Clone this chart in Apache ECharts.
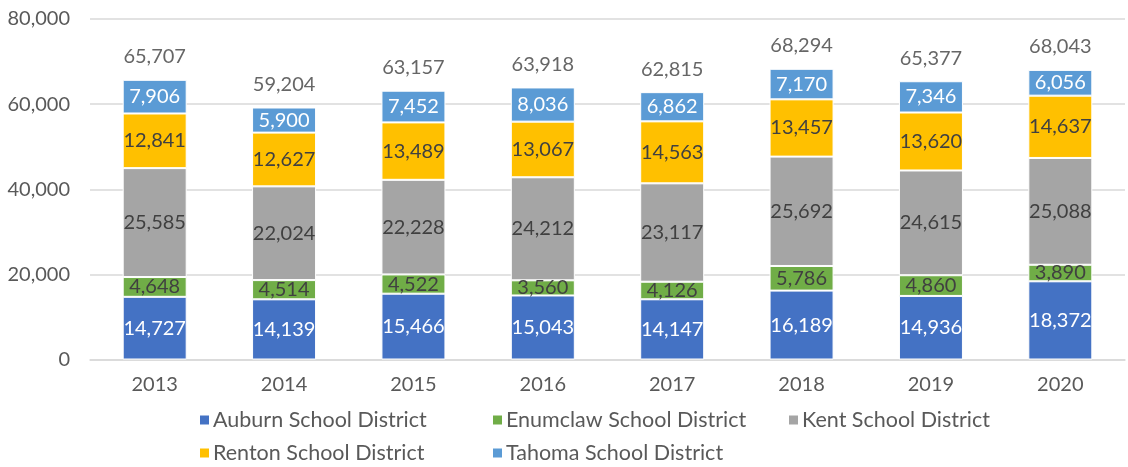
<!DOCTYPE html>
<html>
<head>
<meta charset="utf-8">
<script src="https://cdn.jsdelivr.net/npm/echarts@6/dist/echarts.min.js"></script>
<style>
html,body{margin:0;padding:0;background:#fff;}
#c{width:1128px;height:467px;}
</style>
</head>
<body>
<div id="c"></div>
<script>
var years = ['2013','2014','2015','2016','2017','2018','2019','2020'];
var auburn   = [14727, 14139, 15466, 15043, 14147, 16189, 14936, 18372];
var enumclaw = [4648, 4514, 4522, 3560, 4126, 5786, 4860, 3890];
var kent     = [25585, 22024, 22228, 24212, 23117, 25692, 24615, 25088];
var renton   = [12841, 12627, 13489, 13067, 14563, 13457, 13620, 14637];
var tahoma   = [7906, 5900, 7452, 8036, 6862, 7170, 7346, 6056];
var totals   = [65707, 59204, 63157, 63918, 62815, 68294, 65377, 68043];

var FONT = 'Lato';
function fmt(v){ return Number(v).toLocaleString('en-US'); }

function barSeries(name, data, color, labelColor){
  return {
    name: name, type: 'bar', stack: 'total', data: data, barWidth: 64,
    itemStyle: { color: color, borderColor: '#ffffff', borderWidth: 1 },
    label: { show: true, position: 'inside', color: labelColor, fontFamily: FONT, fontSize: 20,
      formatter: function(p){ return fmt(p.value); } },
    emphasis: { disabled: true }
  };
}

function legendAt(name, left, top){
  return {
    data: [name], left: left, top: top, orient: 'horizontal', padding: 0,
    itemWidth: 11, itemHeight: 11, itemGap: 0, icon: 'rect',
    textStyle: { color: '#595959', fontFamily: FONT, fontSize: 21.5, padding: [0,0,0,-2] },
    selectedMode: false
  };
}

var chart = echarts.init(document.getElementById('c'), null, {renderer: 'canvas'});
chart.setOption({
  animation: false,
  grid: { left: 90, right: 3, top: 19, bottom: 107.5, containLabel: false },
  xAxis: {
    type: 'category', data: years,
    axisTick: { show: false },
    axisLine: { lineStyle: { color: '#d9d9d9', width: 1.5 } },
    axisLabel: { color: '#595959', fontFamily: FONT, fontSize: 20, margin: 15 }
  },
  yAxis: {
    type: 'value', min: 0, max: 80000, interval: 20000,
    axisLine: { show: false }, axisTick: { show: false },
    splitLine: { lineStyle: { color: '#d9d9d9', width: 1.5 } },
    axisLabel: { color: '#595959', fontFamily: FONT, fontSize: 20, margin: 20,
      formatter: function(v){ return fmt(v); } }
  },
  legend: [
    legendAt('Auburn School District', 198, 409),
    legendAt('Enumclaw School District', 491, 409),
    legendAt('Kent School District', 787, 409),
    legendAt('Renton School District', 198, 442),
    legendAt('Tahoma School District', 491, 442)
  ],
  series: [
    barSeries('Auburn School District', auburn, '#4472C4', '#ffffff'),
    barSeries('Enumclaw School District', enumclaw, '#70AD47', '#404040'),
    barSeries('Kent School District', kent, '#A5A5A5', '#404040'),
    barSeries('Renton School District', renton, '#FFC000', '#404040'),
    barSeries('Tahoma School District', tahoma, '#5B9BD5', '#ffffff'),
    {
      name: 'Total', type: 'scatter', data: totals, symbolSize: 0,
      label: { show: true, position: 'top', distance: 13, color: '#404040', fontFamily: FONT, fontSize: 20,
        formatter: function(p){ return fmt(p.value); } },
      emphasis: { disabled: true }, z: 5
    }
  ]
});
</script>
</body>
</html>
